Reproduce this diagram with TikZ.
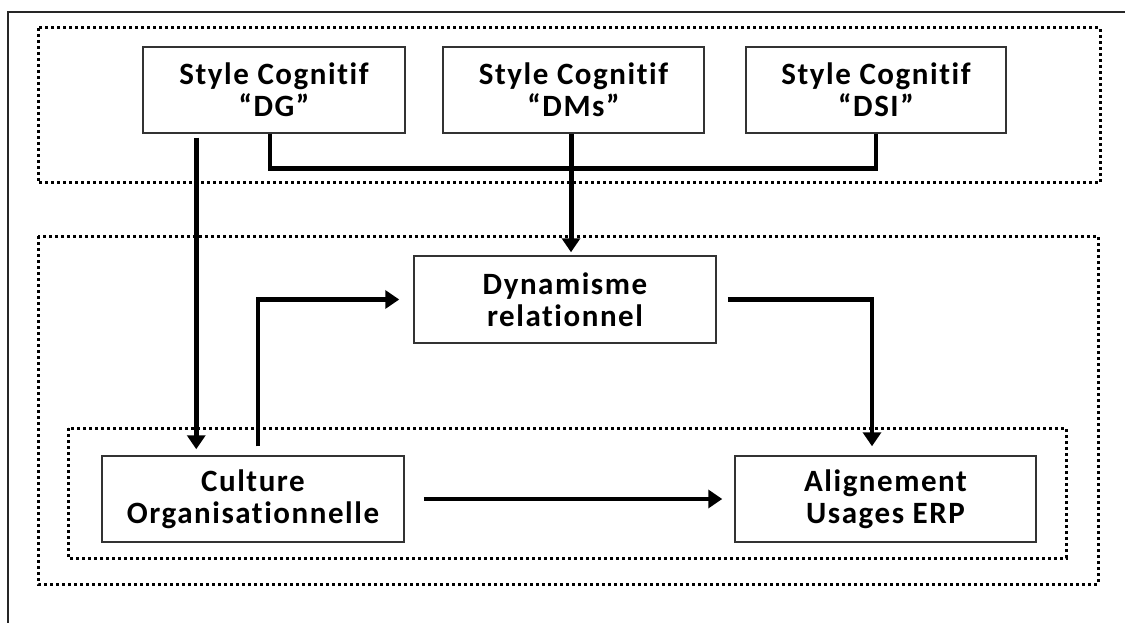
\documentclass[tikz,border=0pt]{standalone}
\usepackage{fontspec}
\setmainfont[Ligatures=NoCommon, LetterSpace=5]{Carlito}
\usetikzlibrary{arrows.meta}

\tikzset{
  box/.style={draw=black!80, line width=1.5pt, inner sep=0pt, align=center,
    font=\fontsize{31}{32}\selectfont\bfseries},
  group/.style={line width=3pt, dash pattern=on 3pt off 3pt},
  link/.style={line width=4.5pt},
  arr/.style={link, -{Triangle[width=18pt,length=14pt]}}
}

\begin{document}
\begin{tikzpicture}[x=1pt,y=-1pt]
\useasboundingbox (0,0) rectangle (1125,623);
\draw[black!85, line width=2pt] (8,623) -- (8,12) -- (1125,12);

% groups
\draw[group] (38,28) rectangle (1100,183);
\draw[group] (38,236) rectangle (1098,584);
\draw[group] (68,428) rectangle (1066,558);

% boxes
\node[box, minimum width=262pt, minimum height=86pt] (dg) at (274,90) {Style Cognitif\\“DG”};
\node[box, minimum width=261pt, minimum height=86pt] (dms) at (573.5,90) {Style Cognitif\\“DMs”};
\node[box, minimum width=260pt, minimum height=86pt] (dsi) at (876,90) {Style Cognitif\\“DSI”};
\node[box, minimum width=302pt, minimum height=87pt] (dyn) at (565,299.5) {Dynamisme\\relationnel};
\node[box, minimum width=302pt, minimum height=86pt] (culture) at (253,499) {Culture\\Organisationnelle};
\node[box, minimum width=301pt, minimum height=86pt] (align) at (885.5,499) {Alignement\\Usages ERP};

% connectors
\draw[link] ([xshift=-4pt]dg.south) -- ++(0,35) -| (dsi.south);
\draw[arr, line width=5pt] ([xshift=-2.5pt]dms.south) -- ([xshift=-2.5pt,yshift=3pt]dms.south |- dyn.north);
\draw[arr] ([xshift=54pt,yshift=-4pt]dg.south west) -- ([xshift=95pt,yshift=6pt]culture.north west);
\draw[arr] ([xshift=5pt,yshift=9pt]culture.north) |- ([xshift=-14pt]dyn.west);
\draw[arr] ([xshift=11pt]dyn.east) -| ([xshift=-13.5pt,yshift=9pt]align.north);
\draw[arr] ([xshift=19pt]culture.east) -- ([xshift=-12pt]align.west);
\end{tikzpicture}
\end{document}
